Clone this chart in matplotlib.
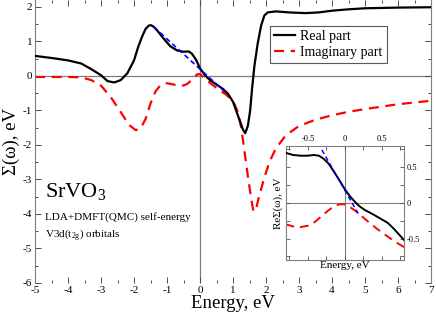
import numpy as np
import matplotlib
matplotlib.use("Agg")
import matplotlib.pyplot as plt
from matplotlib.ticker import MultipleLocator, FixedLocator

plt.rcParams['font.family'] = ['Liberation Serif', 'DejaVu Serif']
plt.rcParams['mathtext.fontset'] = 'custom'
plt.rcParams['mathtext.rm'] = 'Liberation Serif'
plt.rcParams['mathtext.it'] = 'Liberation Serif'
plt.rcParams['axes.unicode_minus'] = False

# main panel: self-energy on the real axis
e_re = [-5.0, -4.5, -4.0, -3.6, -3.3, -3.0, -2.8, -2.6, -2.4, -2.2, -2.0, -1.87,
        -1.75, -1.65, -1.55, -1.48, -1.4, -1.3, -1.1, -0.9, -0.7, -0.5, -0.35, -0.25, -0.12,
        0.0, 0.15, 0.3, 0.5, 0.7, 0.85, 1.0, 1.15, 1.3, 1.37, 1.45, 1.52, 1.58,
        1.65, 1.75, 1.85, 1.95, 2.05, 2.3, 2.7, 3.2, 3.6, 4.0, 4.5, 5.0, 6.0, 7.0]
sig_re = [0.58, 0.52, 0.45, 0.36, 0.20, 0.02, -0.15, -0.19, -0.12, 0.08, 0.45, 0.85,
          1.15, 1.36, 1.46, 1.47, 1.42, 1.32, 1.08, 0.86, 0.74, 0.70, 0.71, 0.65, 0.47,
          0.22, 0.02, -0.12, -0.25, -0.38, -0.52, -0.75, -1.15, -1.55, -1.66, -1.45, -1.0, -0.35,
          0.3, 0.95, 1.45, 1.75, 1.84, 1.87, 1.84, 1.82, 1.84, 1.89, 1.93, 1.96, 1.98, 1.99]

e_im = [-5.0, -4.0, -3.6, -3.3, -3.0, -2.7, -2.4, -2.15, -1.95, -1.8, -1.65, -1.5,
        -1.35, -1.2, -1.0, -0.75, -0.55, -0.4, -0.25, -0.08, 0.0, 0.15, 0.3, 0.55,
        0.8, 1.0, 1.15, 1.25, 1.35, 1.45, 1.55, 1.62, 1.7, 1.8, 1.95, 2.1, 2.3, 2.6,
        3.0, 3.5, 4.0, 4.5, 5.0, 5.5, 6.0, 6.5, 7.0]
sig_im = [-0.03, -0.03, -0.04, -0.12, -0.28, -0.62, -1.05, -1.42, -1.57, -1.52, -1.25, -0.8,
          -0.45, -0.27, -0.21, -0.26, -0.29, -0.24, -0.12, 0.05, 0.05, -0.08, -0.2, -0.38,
          -0.55, -0.72, -1.05, -1.5, -2.2, -2.9, -3.55, -3.93, -3.85, -3.45, -2.95, -2.5, -2.1, -1.72,
          -1.45, -1.27, -1.14, -1.04, -0.96, -0.89, -0.82, -0.77, -0.72]

# linear fit near the Fermi level
fit_e = [-1.4, 0.8]
fit_s = [1.42, -0.5]

# inset: zoom around E_F
ins_e_re = [-0.8, -0.7, -0.6, -0.5, -0.42, -0.35, -0.29, -0.22, -0.15, -0.07, 0.0,
            0.07, 0.14, 0.2, 0.27, 0.38, 0.48, 0.58, 0.66, 0.73, 0.8]
ins_re = [0.70, 0.67, 0.66, 0.66, 0.67, 0.66, 0.62, 0.55, 0.44, 0.31, 0.19,
          0.09, 0.01, -0.05, -0.10, -0.16, -0.22, -0.28, -0.36, -0.44, -0.52]
ins_e_im = [-0.8, -0.7, -0.6, -0.5, -0.42, -0.33, -0.24, -0.15, -0.07, 0.0, 0.07,
            0.14, 0.21, 0.3, 0.43, 0.55, 0.66, 0.8]
ins_im = [-0.30, -0.33, -0.34, -0.32, -0.28, -0.20, -0.12, -0.05, -0.02, -0.02, -0.06,
          -0.11, -0.17, -0.25, -0.36, -0.45, -0.53, -0.62]
ins_fit_e = [-0.31, 0.18]
ins_fit_s = [0.74, -0.15]

grey = '#7f7f7f'

fig = plt.figure(figsize=(4.36, 3.16), dpi=100)
ax = fig.add_axes([35/436, 1 - 283/316, 396/436, 283/316])

ax.axhline(0, color=grey, lw=0.9, zorder=1)
ax.axvline(0, color=grey, lw=0.9, zorder=1)
ax.plot(e_re, sig_re, color='black', lw=1.6, label='Real part', zorder=3)
ax.plot(e_im, sig_im, color='red', lw=1.6, dashes=(4.5, 3), label='Imaginary part', zorder=2)
ax.plot(fit_e, fit_s, color='blue', lw=1.2, dashes=(3, 2), zorder=4)

ax.set_xlim(-5, 7)
ax.set_ylim(-6, 2.2)
ax.xaxis.set_major_locator(MultipleLocator(1))
ax.xaxis.set_minor_locator(MultipleLocator(0.5))
ax.yaxis.set_major_locator(FixedLocator([-6, -5, -4, -3, -2, -1, 0, 1, 2]))
ax.yaxis.set_minor_locator(FixedLocator(np.arange(-5.5, 2.1, 1.0)))
ax.tick_params(which='both', direction='in', top=True, right=True, color='0.3',
               labelsize=8, pad=2)
ax.tick_params(which='major', length=4.5, width=0.7)
ax.tick_params(which='minor', length=2.5, width=0.7)
for s in ['left', 'right']:
    ax.spines[s].set_color(grey)
ax.spines['bottom'].set_visible(False)
ax.spines['top'].set_visible(False)

ax.set_xlabel('Energy, eV', fontsize=13.5, labelpad=0)
ax.set_ylabel('Σ(ω), eV', fontsize=13.5, labelpad=2)

ax.text(-4.7, -3.5, 'SrVO$_3$', fontsize=16)
ax.text(-4.7, -4.17, 'LDA+DMFT(QMC) self-energy', fontsize=8)
ax.text(-4.7, -4.68, 'V3d(t$_{2g}$) orbitals', fontsize=8)

leg = ax.legend(loc='upper left', bbox_to_anchor=(0.593, 0.908), fontsize=10,
                handlelength=1.5, handletextpad=0.4, borderaxespad=0,
                borderpad=0.3, labelspacing=0.2, fancybox=False, framealpha=1)
leg.get_frame().set_edgecolor('0.35')
leg.get_frame().set_linewidth(0.8)

# inset
ins = fig.add_axes([285.7/436, 1 - 260/316, 118.3/436, 114.3/316])
ins.axhline(0, color=grey, lw=0.8, zorder=1)
ins.axvline(0, color=grey, lw=0.8, zorder=1)
ins.plot(ins_e_re, ins_re, color='black', lw=1.4, zorder=3)
ins.plot(ins_e_im, ins_im, color='red', lw=1.4, dashes=(4.5, 3), zorder=2)
ins.plot(ins_fit_e, ins_fit_s, color='blue', lw=1.1, dashes=(3, 2), zorder=4)
ins.set_xlim(-0.8, 0.8)
ins.set_ylim(-0.8, 0.8)
ins.set_xticks([-0.5, 0, 0.5])
ins.set_xticklabels(['-0.5', '0', '0.5'])
ins.set_yticks([-0.5, 0, 0.5])
ins.set_yticklabels(['-0.5', '0', '0.5'])
ins.xaxis.set_minor_locator(MultipleLocator(0.25))
ins.yaxis.set_minor_locator(MultipleLocator(0.25))
ins.tick_params(which='both', direction='in', top=True, right=True, bottom=True, left=True,
                labeltop=True, labelbottom=False, labelright=True, labelleft=False,
                color='0.3', labelsize=6, pad=2)
ins.tick_params(which='major', length=3, width=0.6)
ins.tick_params(which='minor', length=3, width=0.6)
for s in ins.spines.values():
    s.set_color(grey)
ins.set_xlabel('Energy, eV', fontsize=8, labelpad=1)
ins.set_ylabel('ReΣ(ω), eV', fontsize=8, labelpad=2)

fig.savefig('out.png', dpi=100)
